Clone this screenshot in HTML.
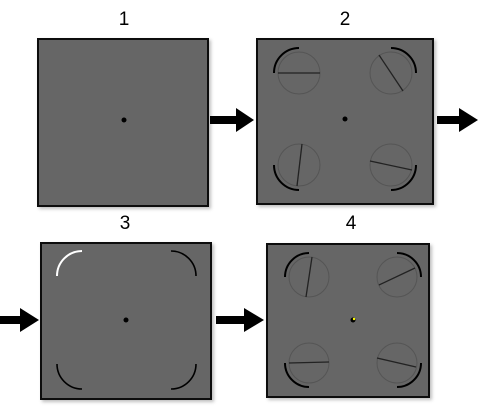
<!DOCTYPE html>
<html><head><meta charset="utf-8"><style>
html,body{margin:0;padding:0;background:#fff;}
svg{display:block;font-family:"Liberation Sans",sans-serif;}
</style></head><body>
<svg width="480" height="416" viewBox="0 0 480 416">
<defs>
<filter id="sh" x="-10%" y="-10%" width="130%" height="130%"><feDropShadow dx="2" dy="2" stdDeviation="1.5" flood-color="#000" flood-opacity="0.25"/></filter>
</defs>
<g font-size="19" text-anchor="middle" fill="#000">
<text x="124" y="25">1</text>
<text x="345" y="25">2</text>
<text x="125" y="229">3</text>
<text x="351" y="229">4</text>
</g>
<!-- panel 1 -->
<g>
<rect x="38" y="39" width="170" height="167" fill="#666" stroke="#111" stroke-width="2" filter="url(#sh)"/>
<circle cx="124" cy="120" r="2.5" fill="#000"/>
</g>
<!-- panel 2 -->
<g fill="none">
<rect x="257" y="39" width="176" height="165" fill="#666" stroke="#111" stroke-width="2" filter="url(#sh)"/>
<g stroke="#555" stroke-width="1"><circle cx="299" cy="73" r="21"/><circle cx="391" cy="73" r="21"/><circle cx="299" cy="165" r="21"/><circle cx="391" cy="165" r="21"/></g>
<g stroke="#222" stroke-width="1.3">
<line x1="278" y1="73" x2="320" y2="73"/><line x1="379" y1="55" x2="403" y2="91"/>
<line x1="302" y1="144" x2="297" y2="186"/><line x1="370" y1="161" x2="412" y2="170"/></g>
<g stroke="#000" stroke-width="2">
<path d="M274 73 A25 25 0 0 1 299 48"/><path d="M391 48 A25 25 0 0 1 416 73"/>
<path d="M274 165 A25 25 0 0 0 299 190"/><path d="M391 190 A25 25 0 0 0 416 165"/></g>
<circle cx="345" cy="119" r="2.5" fill="#000"/>
</g>
<!-- panel 3 -->
<g fill="none">
<rect x="41" y="243" width="170" height="156" fill="#666" stroke="#111" stroke-width="2" filter="url(#sh)"/>
<path d="M57 276 A25 25 0 0 1 82 251" stroke="#fff" stroke-width="2"/>
<g stroke="#000" stroke-width="1.6">
<path d="M171 251 A25 25 0 0 1 196 276"/><path d="M57 364 A25 25 0 0 0 82 389"/><path d="M171 389 A25 25 0 0 0 196 364"/></g>
<circle cx="126" cy="320" r="2.5" fill="#000"/>
</g>
<!-- panel 4 -->
<g fill="none">
<rect x="267" y="244" width="162" height="153" fill="#666" stroke="#111" stroke-width="2" filter="url(#sh)"/>
<g stroke="#555" stroke-width="1"><circle cx="309" cy="277" r="20"/><circle cx="397" cy="277" r="20"/><circle cx="309" cy="363" r="20"/><circle cx="397" cy="363" r="20"/></g>
<g stroke="#222" stroke-width="1.3">
<line x1="312" y1="257" x2="306" y2="297"/><line x1="379" y1="285" x2="415" y2="268"/>
<line x1="289" y1="363" x2="329" y2="362"/><line x1="377" y1="358" x2="416" y2="367"/></g>
<g stroke="#000" stroke-width="2">
<path d="M285 277 A24 24 0 0 1 309 253"/><path d="M397 253 A24 24 0 0 1 421 277"/>
<path d="M285 363 A24 24 0 0 0 309 387"/><path d="M397 387 A24 24 0 0 0 421 363"/></g>
<circle cx="353" cy="320" r="2.5" fill="#000"/>
<circle cx="354" cy="319" r="1.2" fill="#ff0"/>
</g>
<!-- arrows -->
<g fill="#000">
<g><rect x="210" y="116" width="28" height="8"/><polygon points="236,108 254,120 236,132"/></g>
<g><rect x="437" y="116" width="24" height="8"/><polygon points="459,108 478,120 459,132"/></g>
<g><rect x="0" y="316" width="22" height="8"/><polygon points="20,308 39,320 20,332"/></g>
<g><rect x="216" y="316" width="30" height="8"/><polygon points="244,308 264,320 244,332"/></g>
</g>
</svg>
</body></html>
